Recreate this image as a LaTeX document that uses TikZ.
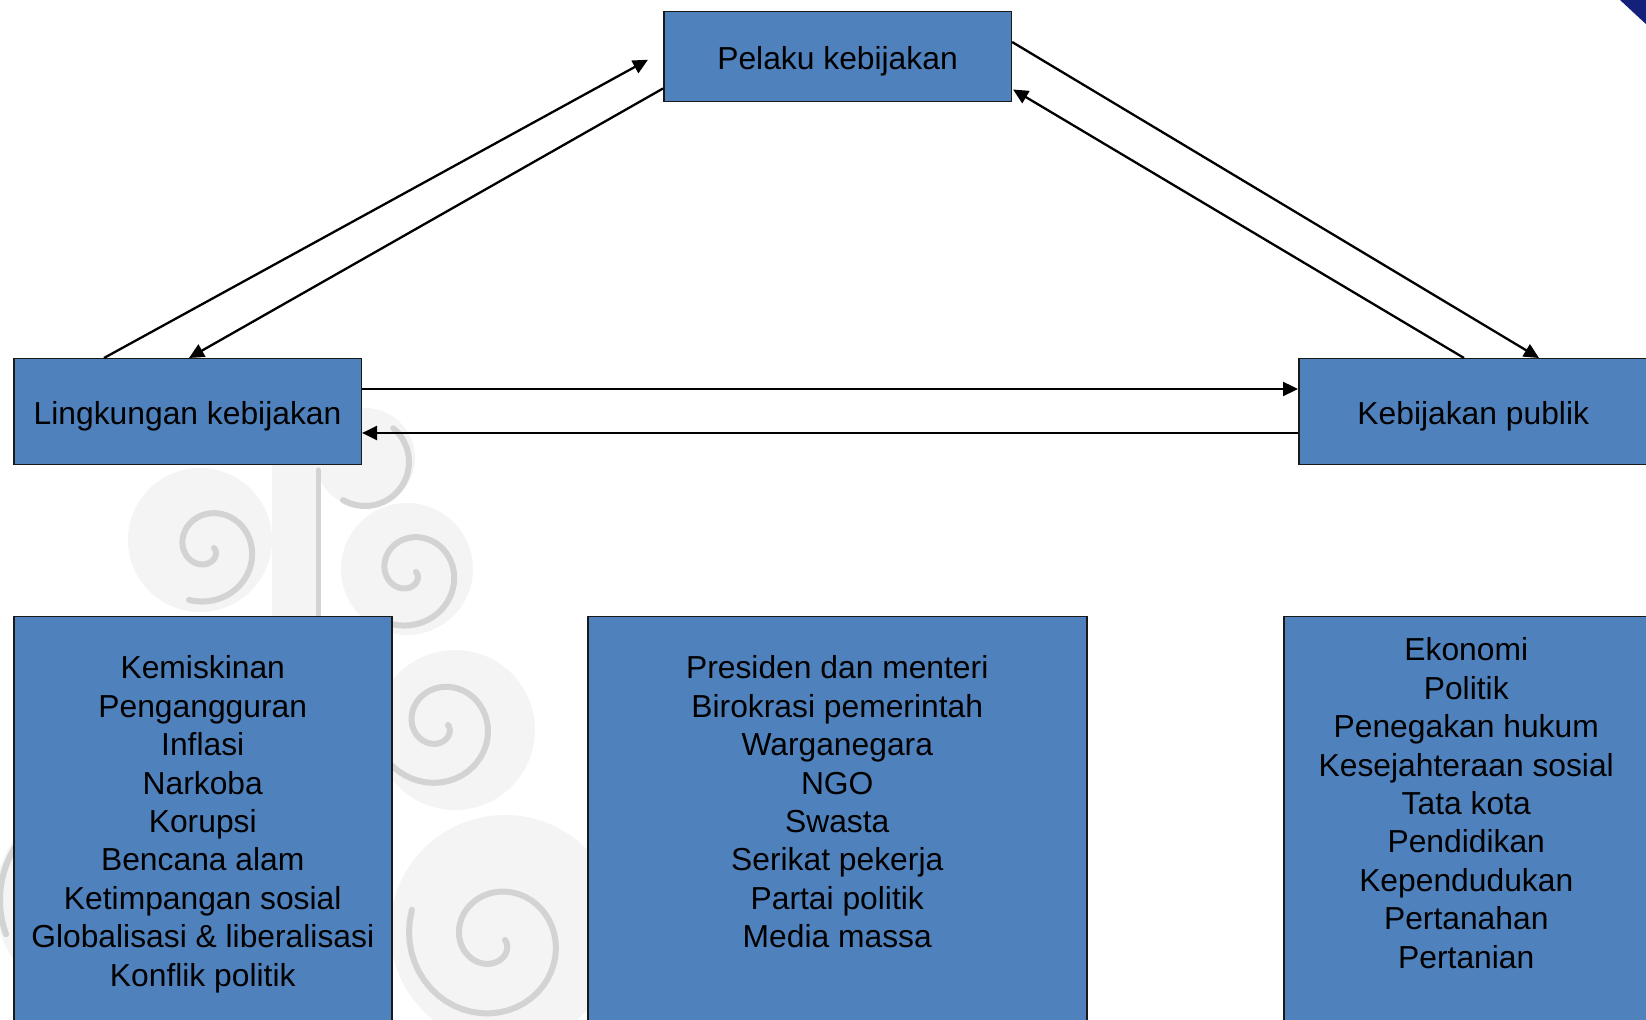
\documentclass[tikz,border=0pt]{standalone}
\usepackage{fontspec}
\setmainfont{Liberation Sans}
\usetikzlibrary{arrows.meta,calc}
\definecolor{boxblue}{HTML}{4F81BD}
\definecolor{wmline}{HTML}{D3D3D3}
\definecolor{wmfill}{HTML}{F4F4F4}
\definecolor{cornernavy}{HTML}{15207A}
\begin{document}
\begin{tikzpicture}[x=0.5pt,y=-0.5pt,
  box/.style={draw=black!90, line width=0.75pt, fill=boxblue, inner sep=0pt, anchor=north west},
  toplabel/.style={font=\fontsize{15.9}{19}\selectfont, text height=13pt, text depth=0pt},
  item/.style={font=\fontsize{15.9}{19}\selectfont, inner sep=0pt, anchor=base},
  conn/.style={line width=1.15pt, -{Triangle[length=7.5pt,width=7pt]}},
  wm/.style={draw=wmline, line width=3pt, line cap=round},
  wmdisk/.style={fill=wmfill},
]
\useasboundingbox (0,0) rectangle (1646,1020);

% ---------- watermark ornament ----------
\fill[wmdisk] (200,540) circle[radius=72];
\fill[wmdisk] (407,569) circle[radius=66];
\fill[wmdisk] (365,458) circle[radius=50];
\fill[wmdisk] (272,464) rectangle (318,616);
\fill[wmdisk] (455,730) circle[radius=80];
\fill[wmdisk] (505,930) circle[radius=115];
\fill[wmdisk] (100,900) circle[radius=105];
\draw[wm, shift={(208,548)}] plot[domain=0:470, samples=70, variable=\t] (\t:{6+0.105*\t});
\draw[wm, shift={(410,572)}] plot[domain=0:470, samples=70, variable=\t] (\t:{6+0.105*\t});
\draw[wm, shift={(440,725)}] plot[domain=0:500, samples=70, variable=\t] (\t:{8+0.11*\t});
\draw[wm, shift={(495,940)}] plot[domain=0:560, samples=80, variable=\t] (\t:{10+0.14*\t});
\draw[wm] ([shift={(365,462)}]-50:44) arc[start angle=-50, end angle=120, radius=44];
\draw[wm, line width=2.5pt] (318,470) -- (318,620);
\draw[wm] ([shift={(100,900)}]235:100) arc[start angle=235, end angle=160, radius=100];

% ---------- corner decoration ----------
\fill[cornernavy] (1620,0) -- (1648,0) -- (1648,26) -- cycle;

% ---------- main boxes ----------
\node[box, toplabel, minimum width=173.8pt, minimum height=45pt] (pk) at (663,11) {Pelaku kebijakan};
\node[box, toplabel, minimum width=173.8pt, minimum height=53pt] (lk) at (13,358) {Lingkungan kebijakan};
\node[box, toplabel, minimum width=174.5pt, minimum height=53pt] (kp) at (1298,358) {Kebijakan publik};

% ---------- list boxes ----------
\node[box, minimum width=189pt, minimum height=210pt] (lb) at (13,616) {};
\node[box, minimum width=249.5pt, minimum height=210pt] (mb) at (587,616) {};
\node[box, minimum width=183.5pt, minimum height=210pt] (rb) at (1283,616) {};

\foreach \t [count=\i from 0] in {Kemiskinan, Pengangguran, Inflasi, Narkoba, Korupsi, Bencana alam, Ketimpangan sosial, Globalisasi \& liberalisasi, Konflik politik}
  \node[item] (la\i) at ($(lb.north)+(0,{63+38.4*\i})$) {\t};
\foreach \t [count=\i from 0] in {Presiden dan menteri, Birokrasi pemerintah, Warganegara, NGO, Swasta, Serikat pekerja, Partai politik, Media massa}
  \node[item] (ma\i) at ($(mb.north)+(0,{63+38.4*\i})$) {\t};
\foreach \t [count=\i from 0] in {Ekonomi, Politik, Penegakan hukum, Kesejahteraan sosial, Tata kota, Pendidikan, Kependudukan, Pertanahan, Pertanian}
  \node[item] (ra\i) at ($(rb.north)+(-1,{45+38.4*\i})$) {\t};

% ---------- connectors ----------
\draw[conn] ($(lk.north west)+(91,0)$) -- ($(pk.west)+(-15,3)$);
\draw[conn] ($(pk.south west)+(0,-14)$) -- ($(lk.north west)+(176,0)$);
\draw[conn] ($(pk.north east)+(0,31)$) -- ($(kp.north west)+(241,0)$);
\draw[conn] ($(kp.north west)+(166,0)$) -- ($(pk.south east)+(1,-13)$);
\draw[conn] ($(lk.north east)+(0,31)$) -- ($(kp.north west)+(0,31)$);
\draw[conn] ($(kp.north west)+(0,75)$) -- ($(lk.north east)+(0,75)$);
\end{tikzpicture}
\end{document}
